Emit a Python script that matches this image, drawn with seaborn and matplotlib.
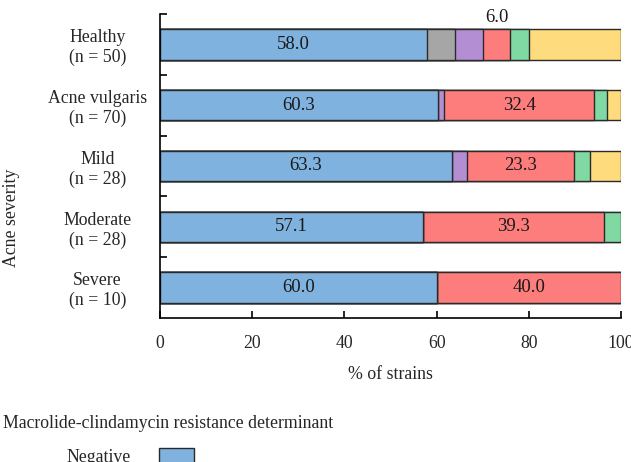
import numpy as np
import pandas as pd
import matplotlib
matplotlib.use('Agg')
import matplotlib.pyplot as plt
import seaborn as sns
from matplotlib.patches import Patch
from matplotlib.ticker import FixedLocator

# dados
grupos = ['Healthy', 'Acne vulgaris', 'Mild', 'Moderate', 'Severe']
n_grupos = [50, 70, 28, 28, 10]

series = ['Negative', '23S rRNA A2058G', '23S rRNA A2059G', 'erm(X)',
          'erm(X) + 23S rRNA', 'Other']
negativo = [58.0, 60.3, 63.3, 57.1, 60.0]
s_cinza = [6.0, 0.0, 0.0, 0.0, 0.0]
s_roxo = [6.0, 1.4, 3.3, 0.0, 0.0]
s_verm = [6.0, 32.4, 23.3, 39.3, 40.0]
s_verde = [4.0, 2.9, 3.3, 3.6, 0.0]
s_amar = [20.0, 3.0, 6.7, 0.0, 0.0]
cores = ['#7fb2de', '#a6a6a6', '#b48ed2', '#fd7c7c', '#80d8a2', '#fedb7c']

sns.set_style('ticks')
plt.rcParams['font.family'] = ['Liberation Serif', 'DejaVu Serif']
fs = 12.8

df = pd.DataFrame(dict(zip(series, [negativo, s_cinza, s_roxo, s_verm, s_verde, s_amar])),
                  index=grupos)
cum = df.cumsum(axis=1)
inicio = cum - df

fig = plt.figure(figsize=(6.31, 4.62), dpi=100)
ax = fig.add_axes([160/631, 1 - 318/462, 461/631, 304/462])

# barras empilhadas: desenha as somas acumuladas da maior para a menor
for i in range(len(series) - 1, -1, -1):
    sns.barplot(x=cum[series[i]].values, y=grupos, color=cores[i], saturation=1,
                orient='h', width=0.5, edgecolor='#2a2a2a', linewidth=1.0, ax=ax)

# rótulos dos valores
for j, g in enumerate(grupos):
    for s in ['Negative', 'erm(X)']:
        v = df.loc[g, s]
        if v >= 10:
            ax.text(inicio.loc[g, s] + v / 2, j, f'{v:.1f}', ha='center', va='center',
                    fontsize=13.5, color='#1a1a1a')
v = df.loc['Healthy', 'erm(X)']
ax.text(inicio.loc['Healthy', 'erm(X)'] + v / 2, -0.31, f'{v:.1f}', ha='center',
        va='bottom', fontsize=13.5, color='#1a1a1a')

ax.set_xlim(0, 100)
ax.set_ylim(len(grupos) - 0.5, -0.5)
ax.set_xticks([0, 20, 40, 60, 80, 100])
ax.set_xticklabels(['0', '20', '40', '60', '80', '100'], fontsize=fs)
ax.set_yticks(range(len(grupos)))
ax.set_yticklabels([f'{g}\n(n = {n})' for g, n in zip(grupos, n_grupos)], fontsize=fs)
for t in ax.get_yticklabels():
    t.set_ha('center')
    t.set_multialignment('center')
ax.tick_params(axis='y', which='major', length=0, pad=45)
ax.yaxis.set_minor_locator(FixedLocator(np.arange(-0.5, len(grupos) - 1, 1.0)))
ax.tick_params(axis='y', which='minor', direction='in', length=5, width=1.2, color='black')
ax.tick_params(axis='x', direction='in', length=5, width=1.2, pad=12, color='black')
ax.set_xlabel('% of strains', fontsize=fs, labelpad=10)
ax.set_ylabel('')
sns.despine(ax=ax)
for sp in ['left', 'bottom']:
    ax.spines[sp].set_linewidth(1.2)
    ax.spines[sp].set_color('black')

fig.text(12/631, 1 - 218/462, 'Acne severity', rotation=90, ha='center', va='center',
         fontsize=fs)

# legenda (cortada na parte de baixo, como no original)
fig.text(3/631, 1 - 424/462, 'Macrolide-clindamycin resistance determinant',
         ha='left', va='center', fontsize=fs)
handles = [Patch(facecolor=c, edgecolor='#2a2a2a', linewidth=1.0) for c in cores]
fig.legend(handles, series, loc='upper right', bbox_to_anchor=(203/631, 1 - 439/462),
           frameon=False, markerfirst=False, borderpad=0, fontsize=fs,
           handlelength=2.0, handleheight=1.0, labelspacing=0.8, handletextpad=1.55)

fig.savefig('out.png', dpi=100)
